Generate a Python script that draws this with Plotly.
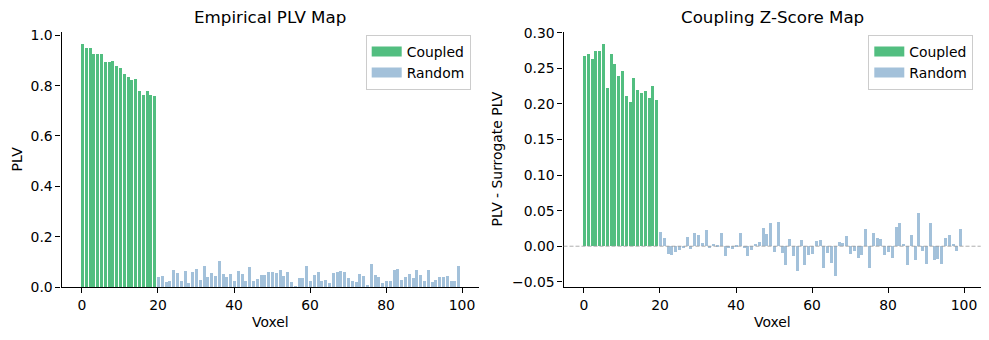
import plotly.graph_objects as go

# ---------------- data ----------------
coupled_voxels = list(range(0, 20))
random_voxels = list(range(20, 100))

plv_coupled = [0.966, 0.950, 0.950, 0.926, 0.926, 0.926, 0.894, 0.894, 0.898, 0.878,
               0.870, 0.849, 0.834, 0.823, 0.826, 0.779, 0.763, 0.779, 0.763, 0.759]

plv_random = [0.040, 0.044, 0.020, 0.024, 0.068, 0.056, 0.024, 0.064, 0.016, 0.060,
              0.072, 0.028, 0.083, 0.040, 0.056, 0.044, 0.103, 0.052, 0.040, 0.052,
              0.024, 0.064, 0.052, 0.024, 0.079, 0.024, 0.032, 0.048, 0.048, 0.060,
              0.060, 0.056, 0.068, 0.044, 0.060, 0.020, 0.004, 0.036, 0.036, 0.083,
              0.024, 0.048, 0.060, 0.024, 0.028, 0.016, 0.056, 0.060, 0.064, 0.060,
              0.036, 0.024, 0.020, 0.052, 0.044, 0.008, 0.091, 0.048, 0.040, 0.016,
              0.024, 0.024, 0.068, 0.072, 0.028, 0.040, 0.052, 0.036, 0.068, 0.048,
              0.024, 0.068, 0.020, 0.028, 0.040, 0.040, 0.044, 0.024, 0.024, 0.083]

z_coupled = [0.268, 0.270, 0.264, 0.274, 0.274, 0.285, 0.223, 0.270, 0.256, 0.239,
             0.247, 0.211, 0.203, 0.236, 0.220, 0.215, 0.219, 0.208, 0.225, 0.206]

z_random = [0.020, 0.012, -0.011, -0.012, -0.008, -0.005, -0.002, 0.013, -0.004, 0.019,
            0.016, 0.005, 0.023, -0.001, 0.003, 0.001, 0.019, -0.013, -0.001, -0.004,
            0.002, 0.019, -0.001, -0.013, -0.005, 0.003, 0.006, 0.026, 0.017, 0.033,
            -0.008, 0.035, -0.009, -0.026, 0.010, -0.013, -0.034, 0.009, -0.026, -0.012,
            -0.011, 0.007, 0.009, -0.031, -0.009, -0.023, -0.041, 0.006, 0.005, 0.014,
            -0.011, -0.006, -0.016, -0.012, 0.024, -0.030, 0.019, 0.012, 0.010, -0.012,
            -0.008, -0.016, 0.027, 0.033, 0.003, -0.026, 0.016, -0.019, 0.047, -0.006,
            -0.024, 0.033, -0.019, -0.018, -0.024, 0.012, 0.016, 0.003, -0.006, 0.025]

x_ticks = [0, 20, 40, 60, 80, 100]
left_y_ticks = [0.0, 0.2, 0.4, 0.6, 0.8, 1.0]
right_y_ticks = [-0.05, 0.00, 0.05, 0.10, 0.15, 0.20, 0.25, 0.30]

# ---------------- style ----------------
GREEN = "#52be80"
BLUE = "#a3c1da"
FONT = "DejaVu Sans"
W, H = 989, 340

fig = go.Figure()

# left panel
fig.add_trace(go.Bar(x=coupled_voxels, y=plv_coupled, width=0.8, marker=dict(color=GREEN, line_width=0),
                     xaxis="x", yaxis="y", showlegend=False))
fig.add_trace(go.Bar(x=random_voxels, y=plv_random, width=0.8, marker=dict(color=BLUE, line_width=0),
                     xaxis="x", yaxis="y", showlegend=False))
# right panel
fig.add_trace(go.Bar(x=coupled_voxels, y=z_coupled, width=0.8, marker=dict(color=GREEN, line_width=0),
                     xaxis="x2", yaxis="y2", showlegend=False))
fig.add_trace(go.Bar(x=random_voxels, y=z_random, width=0.8, marker=dict(color=BLUE, line_width=0),
                     xaxis="x2", yaxis="y2", showlegend=False))

# legend swatches (wide rectangles like matplotlib)
for name, col, leg, xa, ya in [("Coupled", GREEN, "legend", "x", "y"),
                               ("Random", BLUE, "legend", "x", "y"),
                               ("Coupled", GREEN, "legend2", "x2", "y2"),
                               ("Random", BLUE, "legend2", "x2", "y2")]:
    fig.add_trace(go.Scatter(x=[None], y=[None], mode="lines", name=name,
                             line=dict(color=col, width=10), legend=leg,
                             xaxis=xa, yaxis=ya, showlegend=True))

yb = (H - 287) / H
yt = (H - 31.8) / H
dom_l = [61.5 / W, 478.7 / W]
dom_r = [563.5 / W, 980.7 / W]

axis_common = dict(showline=True, linecolor="black", linewidth=1.1, ticks="outside",
                   ticklen=5, tickwidth=1.1, tickcolor="black", showgrid=False,
                   zeroline=False, automargin=False,
                   tickfont=dict(family=FONT, size=13.9, color="black"))

legend_common = dict(yanchor="top", xanchor="right",
                     bgcolor="rgba(255,255,255,0.8)", bordercolor="#cccccc", borderwidth=1,
                     font=dict(family=FONT, size=13.9, color="black"), itemwidth=30,
                     tracegroupgap=0)

fig.update_layout(
    width=W, height=H, margin=dict(l=0, r=0, t=0, b=0, pad=0, autoexpand=False),
    paper_bgcolor="white", plot_bgcolor="white",
    barmode="overlay", bargap=0,
    font=dict(family=FONT, size=13.9, color="black"),
    xaxis=dict(domain=dom_l, anchor="y", range=[-5.39, 104.39], tickvals=x_ticks, **axis_common),
    yaxis=dict(domain=[yb, yt], anchor="x", range=[0, 1.014], tickvals=left_y_ticks,
               tickformat=".1f", **axis_common),
    xaxis2=dict(domain=dom_r, anchor="y2", range=[-5.39, 104.39], tickvals=x_ticks, **axis_common),
    yaxis2=dict(domain=[yb, yt], anchor="x2", range=[-0.0573, 0.3013], tickvals=right_y_ticks,
                tickformat=".2f", **axis_common),
    legend=dict(x=470.7 / W, y=(H - 35) / H, **legend_common),
    legend2=dict(x=973.3 / W, y=(H - 35) / H, **legend_common),
)

# zero reference line on right panel
fig.add_shape(type="line", xref="x2 domain", yref="y2", x0=0, x1=1, y0=0, y1=0,
              line=dict(color="#999999", width=0.8, dash="4px,2px"), layer="above")

# titles and axis labels
ann = [
    dict(text="Empirical PLV Map", x=(dom_l[0] + dom_l[1]) / 2, y=(H - 17) / H, size=16.7, angle=0),
    dict(text="Coupling Z-Score Map", x=(dom_r[0] + dom_r[1]) / 2, y=(H - 17) / H, size=16.7, angle=0),
    dict(text="Voxel", x=(dom_l[0] + dom_l[1]) / 2, y=(H - 322) / H, size=13.9, angle=0),
    dict(text="Voxel", x=(dom_r[0] + dom_r[1]) / 2, y=(H - 322) / H, size=13.9, angle=0),
    dict(text="PLV", x=17 / W, y=(yb + yt) / 2, size=13.9, angle=-90),
    dict(text="PLV - Surrogate PLV", x=497 / W, y=(yb + yt) / 2, size=13.9, angle=-90),
]
for a in ann:
    fig.add_annotation(text=a["text"], x=a["x"], y=a["y"], xref="paper", yref="paper",
                       xanchor="center", yanchor="middle", showarrow=False, textangle=a["angle"],
                       font=dict(family=FONT, size=a["size"], color="black"))

fig.write_html("out.html")
